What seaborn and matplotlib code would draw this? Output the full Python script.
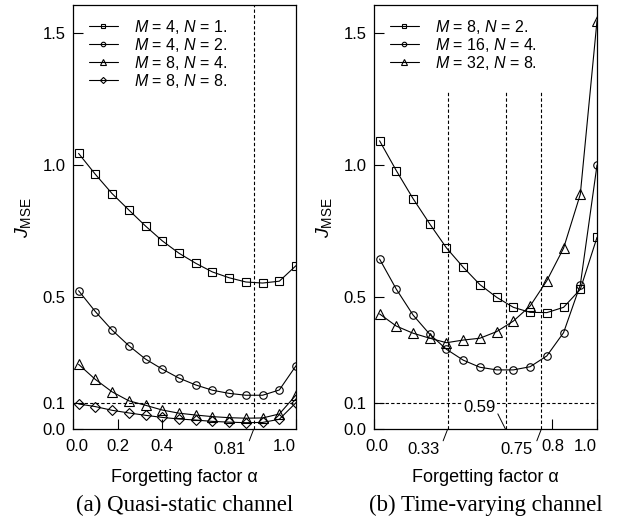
import matplotlib
matplotlib.use("Agg")
import matplotlib.pyplot as plt
import matplotlib.transforms as mtransforms
import seaborn as sns
import pandas as pd

# ---------------- data ----------------
alpha = [0.025, 0.1, 0.175, 0.25, 0.325, 0.4, 0.475, 0.55, 0.625, 0.7, 0.775, 0.85, 0.925, 1.0]

# (a) quasi-static channel
qs_labels = ["$M$ = 4, $N$ = 1.", "$M$ = 4, $N$ = 2.", "$M$ = 8, $N$ = 4.", "$M$ = 8, $N$ = 8."]
qs_m4n1 = [1.045, 0.966, 0.893, 0.831, 0.770, 0.714, 0.667, 0.629, 0.596, 0.574, 0.558, 0.554, 0.561, 0.620]
qs_m4n2 = [0.525, 0.446, 0.376, 0.317, 0.266, 0.228, 0.194, 0.168, 0.148, 0.136, 0.129, 0.129, 0.149, 0.241]
qs_m8n4 = [0.246, 0.189, 0.142, 0.108, 0.091, 0.073, 0.061, 0.054, 0.048, 0.044, 0.042, 0.043, 0.058, 0.130]
qs_m8n8 = [0.096, 0.086, 0.072, 0.062, 0.053, 0.045, 0.039, 0.035, 0.030, 0.027, 0.025, 0.026, 0.038, 0.101]

# (b) time-varying channel
tv_labels = ["$M$ = 8, $N$ = 2.", "$M$ = 16, $N$ = 4.", "$M$ = 32, $N$ = 8."]
tv_m8n2 = [1.093, 0.980, 0.874, 0.778, 0.687, 0.614, 0.548, 0.500, 0.462, 0.443, 0.442, 0.462, 0.530, 0.727]
tv_m16n4 = [0.645, 0.531, 0.433, 0.360, 0.303, 0.262, 0.235, 0.225, 0.225, 0.237, 0.278, 0.366, 0.547, 1.001]
tv_m32n8 = [0.437, 0.391, 0.364, 0.345, 0.328, 0.338, 0.345, 0.370, 0.410, 0.467, 0.563, 0.686, 0.890, 1.548]

yticks = [0.0, 0.1, 0.5, 1.0, 1.5]
ytick_labels = ["0.0", "0.1", "0.5", "1.0", "1.5"]
qs_xticks = [0.0, 0.2, 0.4, 1.0]
qs_xtick_labels = ["0.0", "0.2", "0.4", "1.0"]
tv_xticks = [0.0, 0.8, 1.0]
tv_xtick_labels = ["0.0", "0.8", "1.0"]
qs_opt_alpha = [0.81]
tv_marked_alpha = [0.33, 0.75]
tv_inner_alpha = [0.59]
threshold = 0.1
tv_vline_top = 1.28

markers_qs = ["s", "o", "^", "D"]
markers_tv = ["s", "o", "^"]
msizes = {"s": 5.4, "o": 5.4, "^": 7.0, "D": 5.2}

# ---------------- style ----------------
sns.set_theme(style="white", rc={
    "axes.edgecolor": "black", "axes.linewidth": 0.9,
    "text.color": "black", "axes.labelcolor": "black",
    "xtick.color": "black", "ytick.color": "black",
})
plt.rcParams["font.family"] = ["Liberation Sans", "DejaVu Sans"]
plt.rcParams["mathtext.fontset"] = "custom"
plt.rcParams["mathtext.rm"] = "Liberation Sans"
plt.rcParams["mathtext.it"] = "Liberation Sans:italic"
plt.rcParams["mathtext.bf"] = "Liberation Sans:bold"

fig = plt.figure(figsize=(6.23, 5.27), dpi=100)
axL = fig.add_axes([0.1172, 0.1854, 0.358, 0.805])
axR = fig.add_axes([0.6003, 0.1854, 0.358, 0.805])

DASH = (3, 2)
LW = 0.8
TICK_FS = 12


def draw_series(ax, series, labels, markers):
    for vals, lab, mk in zip(series, labels, markers):
        df = pd.DataFrame({"alpha": alpha, "J": vals})
        sns.lineplot(data=df, x="alpha", y="J", ax=ax, color="black", lw=LW,
                     marker=mk, markersize=msizes[mk], markerfacecolor="none",
                     markeredgecolor="black", markeredgewidth=0.8,
                     label=lab, errorbar=None, legend=False, zorder=3)


def style_axes(ax, xticks, xlabels, first_shift):
    ax.set_xlim(0, 1.0)
    ax.set_ylim(0, 1.607)
    ax.set_yticks(yticks)
    ax.set_yticklabels(ytick_labels)
    ax.set_xticks(xticks)
    ax.set_xticklabels(xlabels)
    ax.tick_params(axis="both", which="both", direction="in", length=7, width=0.8,
                   labelsize=TICK_FS, top=False, right=False, bottom=True, left=True)
    ax.tick_params(axis="x", pad=7)
    ax.tick_params(axis="y", pad=5.5)
    for lab in ax.get_xticklabels():
        if lab.get_text() == "1.0":
            lab.set_horizontalalignment("right")
        if lab.get_text() == "0.0":
            lab.set_transform(lab.get_transform() + mtransforms.ScaledTranslation(
                first_shift / 100.0, 0, fig.dpi_scale_trans))
    ax.set_xlabel("Forgetting factor α", fontsize=13)
    ax.set_ylabel("$J_{\\mathrm{MSE}}$", fontsize=14)
    ax.xaxis.set_label_coords(0.5, -0.094)
    ax.yaxis.set_label_coords(-0.18, 0.5)
    ax.axhline(threshold, color="black", lw=LW, ls=(0, DASH), zorder=1)
    for s in ax.spines.values():
        s.set_color("black")
        s.set_linewidth(0.9)


def leader_label(ax, a, above=False, white=False):
    if above:
        off = (-18.5, 15.8)
        rel = (1.0, 0.3)
    else:
        off = (-17.7, -14.2)
        rel = (1.0, 0.35)
    kw = {}
    if white:
        kw["bbox"] = dict(boxstyle="square,pad=0.05", fc="white", ec="none")
    ax.annotate(f"{a:.2f}", xy=(a, 0), xycoords="data", xytext=off,
                textcoords="offset points", ha="center", va="center", fontsize=TICK_FS,
                arrowprops=dict(arrowstyle="-", color="black", lw=0.7,
                                shrinkA=1.5, shrinkB=0, relpos=rel),
                annotation_clip=False, zorder=5, **kw)


# (a)
draw_series(axL, [qs_m4n1, qs_m4n2, qs_m8n4, qs_m8n8], qs_labels, markers_qs)
style_axes(axL, qs_xticks, qs_xtick_labels, 4)
for a in qs_opt_alpha:
    axL.axvline(a, color="black", lw=LW, ls=(0, DASH), zorder=1)
    leader_label(axL, a)

# (b)
draw_series(axR, [tv_m8n2, tv_m16n4, tv_m32n8], tv_labels, markers_tv)
style_axes(axR, tv_xticks, tv_xtick_labels, 3)
axR.vlines(tv_marked_alpha + tv_inner_alpha, 0, tv_vline_top, colors="black",
           lw=LW, linestyles=[(0, DASH)], zorder=1)
for a in tv_marked_alpha:
    leader_label(axR, a)
for a in tv_inner_alpha:
    leader_label(axR, a, above=True, white=True)

for ax in (axL, axR):
    ax.legend(loc="upper left", bbox_to_anchor=(0.02, 0.997), frameon=False,
              fontsize=11.5, handlelength=1.85, handletextpad=1.0,
              labelspacing=0.0, markerscale=0.6, borderaxespad=0.3)

fig.text(0.2962, 0.0417, "(a) Quasi-static channel", family="Liberation Serif",
         fontsize=16.5, ha="center", va="center")
fig.text(0.7793, 0.0417, "(b) Time-varying channel", family="Liberation Serif",
         fontsize=16.5, ha="center", va="center")

fig.savefig("out.png", dpi=100)
